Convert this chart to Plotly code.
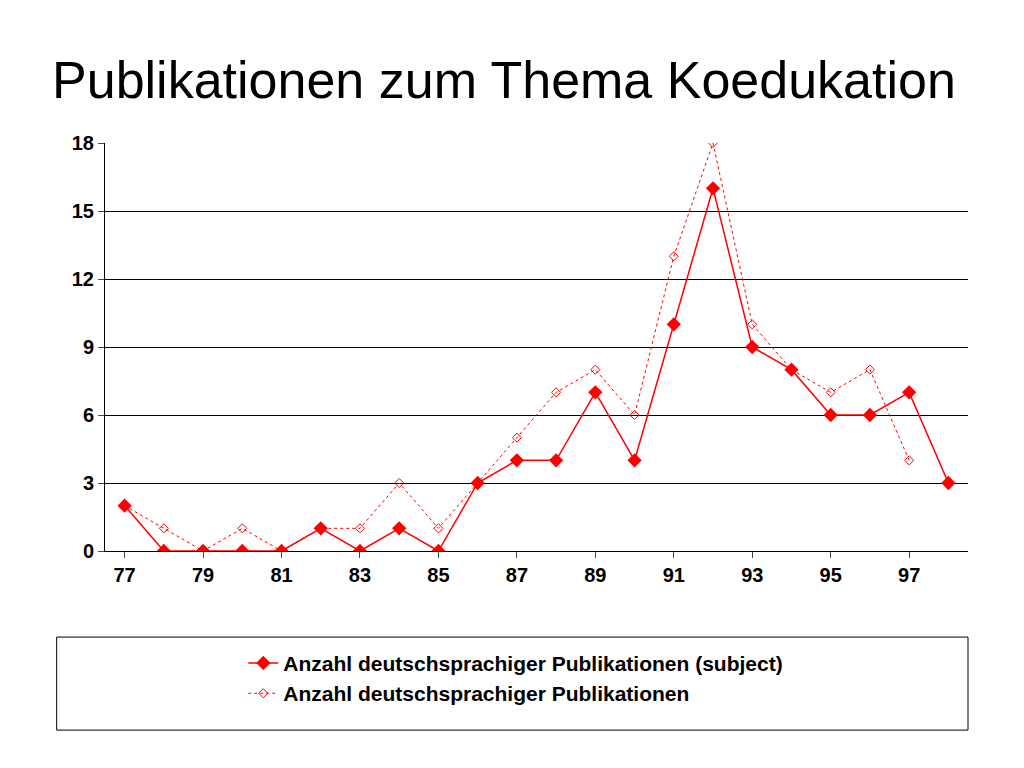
import plotly.graph_objects as go

years = list(range(77, 99))
subject = [2, 0, 0, 0, 0, 1, 0, 1, 0, 3, 4, 4, 7, 4, 10, 16, 9, 8, 6, 6, 7, 3]
years_all = list(range(77, 98))
alle = [2, 1, 0, 1, 0, 1, 1, 3, 1, 3, 5, 7, 8, 6, 13, 18, 10, 8, 7, 8, 4]
tick_years = list(range(77, 98, 2))

bold = dict(size=20, family="Liberation Sans", weight="bold")

fig = go.Figure()
fig.add_trace(go.Scatter(
    x=years, y=subject, mode="lines+markers",
    name="Anzahl deutschsprachiger Publikationen (subject)",
    line=dict(color="#ff0000", width=1.5),
    marker=dict(symbol="diamond", size=11, color="#ff0000"),
))
fig.add_trace(go.Scatter(
    x=years_all, y=alle, mode="lines+markers",
    name="Anzahl deutschsprachiger Publikationen",
    line=dict(color="#ff0000", width=1, dash="dot"),
    marker=dict(symbol="diamond-open", size=7, color="#ff0000"),
))

fig.add_shape(type="rect", xref="paper", yref="paper",
              x0=-0.056, x1=1.0, y0=-0.439, y1=-0.211,
              line=dict(color="black", width=1))

fig.update_layout(
    width=1024, height=768,
    paper_bgcolor="white", plot_bgcolor="white",
    margin=dict(l=97, r=64, t=135, b=225),
    font=dict(family="Liberation Sans", color="black"),
    title=dict(text="Publikationen zum Thema Koedukation", x=0.043, xanchor="left",
               y=0.906, yanchor="middle", font=dict(size=52, family="Liberation Sans")),
    xaxis=dict(range=[76.5, 98.5], tickvals=tick_years, showgrid=False,
               showline=True, linecolor="black", ticks="outside", ticklen=6,
               tickfont=bold, zeroline=False),
    yaxis=dict(range=[0, 18], dtick=3, showgrid=True, gridcolor="black", gridwidth=1,
               showline=True, linecolor="black", ticks="outside", ticklen=6,
               tickfont=bold, zeroline=False),
    showlegend=True,
    legend=dict(x=0.476, xanchor="center", y=-0.225, yanchor="top",
                font=dict(size=21, family="Liberation Sans", weight="bold"),
                bgcolor="rgba(0,0,0,0)", tracegroupgap=6),
)

fig.write_html("out.html")
